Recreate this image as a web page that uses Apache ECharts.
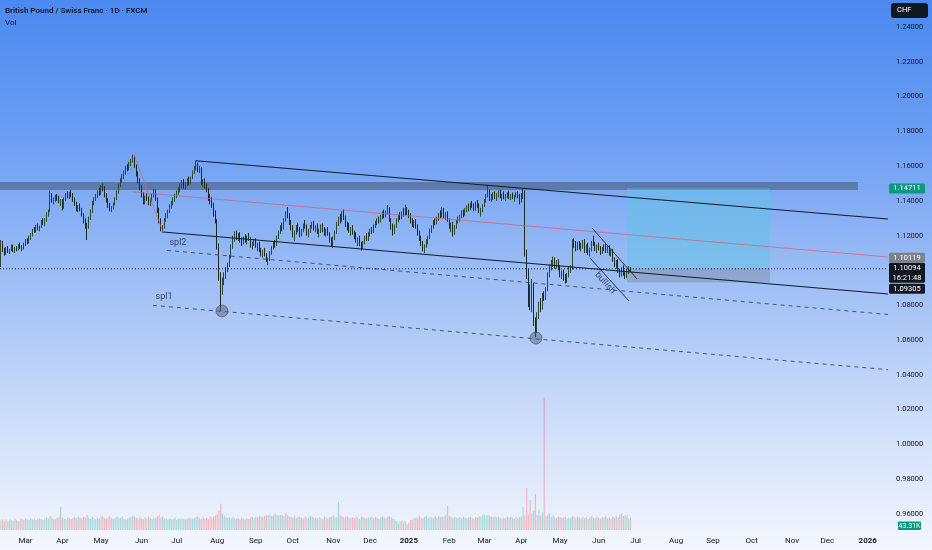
<!DOCTYPE html>
<html><head><meta charset="utf-8">
<script src="https://cdn.jsdelivr.net/npm/echarts@6/dist/echarts.min.js"></script>
<style>html,body{margin:0;padding:0;background:#fff}#c{width:932px;height:550px}</style>
</head><body><div id="c"></div>
<script>
// ---------------- DATA ----------------
const firstBarDate = '2024-02-12';
const categoryCount = 505; // weekday slots from first bar to mid Jan 2026
const title = 'British Pound / Swiss Franc · 1D · FXCM';
const currencyLabel = 'CHF';
const volumeTitle = 'Vol';
// daily candles [open, high, low, close]
const candles = [
[1.1035,1.1175,1.1020,1.1160],[1.1160,1.1170,1.1105,1.1115],[1.1115,1.1130,1.1085,1.1100],[1.1100,1.1135,1.1090,1.1125],[1.1125,1.1140,1.1100,1.1110],
[1.1110,1.1125,1.1095,1.1118],[1.1118,1.1150,1.1110,1.1140],[1.1140,1.1148,1.1105,1.1112],[1.1112,1.1135,1.1100,1.1128],[1.1128,1.1140,1.1110,1.1120],
[1.1120,1.1150,1.1115,1.1145],[1.1145,1.1160,1.1125,1.1135],[1.1135,1.1145,1.1110,1.1128],[1.1128,1.1160,1.1120,1.1155],[1.1155,1.1180,1.1140,1.1170],
[1.1170,1.1185,1.1150,1.1160],[1.1160,1.1200,1.1155,1.1190],[1.1190,1.1215,1.1175,1.1205],[1.1205,1.1240,1.1195,1.1232],[1.1232,1.1250,1.1215,1.1225],
[1.1225,1.1262,1.1218,1.1255],[1.1255,1.1270,1.1230,1.1240],[1.1240,1.1258,1.1225,1.1250],[1.1250,1.1290,1.1245,1.1280],[1.1280,1.1300,1.1260,1.1268],
[1.1268,1.1300,1.1255,1.1290],[1.1290,1.1335,1.1280,1.1325],[1.1325,1.1350,1.1310,1.1340],[1.1340,1.1460,1.1335,1.1430],[1.1430,1.1445,1.1390,1.1400],
[1.1400,1.1420,1.1380,1.1410],[1.1410,1.1435,1.1395,1.1420],[1.1420,1.1440,1.1400,1.1415],[1.1415,1.1430,1.1385,1.1395],[1.1395,1.1410,1.1370,1.1400],
[1.1400,1.1410,1.1345,1.1360],[1.1360,1.1420,1.1355,1.1412],[1.1412,1.1445,1.1400,1.1435],[1.1435,1.1455,1.1415,1.1425],[1.1425,1.1450,1.1410,1.1440],
[1.1440,1.1462,1.1420,1.1430],[1.1430,1.1445,1.1395,1.1402],[1.1402,1.1420,1.1370,1.1380],[1.1380,1.1395,1.1340,1.1350],[1.1350,1.1375,1.1335,1.1365],
[1.1365,1.1385,1.1340,1.1348],[1.1348,1.1360,1.1310,1.1320],[1.1320,1.1330,1.1270,1.1285],[1.1285,1.1300,1.1240,1.1262],[1.1262,1.1275,1.1175,1.1250],
[1.1250,1.1310,1.1240,1.1298],[1.1298,1.1350,1.1290,1.1340],[1.1340,1.1400,1.1330,1.1390],[1.1390,1.1420,1.1375,1.1412],[1.1412,1.1440,1.1400,1.1425],
[1.1425,1.1460,1.1415,1.1450],[1.1450,1.1475,1.1430,1.1440],[1.1440,1.1490,1.1435,1.1480],[1.1480,1.1500,1.1455,1.1470],[1.1470,1.1485,1.1420,1.1430],
[1.1430,1.1445,1.1390,1.1400],[1.1400,1.1415,1.1360,1.1372],[1.1372,1.1390,1.1340,1.1355],[1.1355,1.1370,1.1335,1.1362],[1.1362,1.1390,1.1350,1.1382],
[1.1382,1.1420,1.1375,1.1412],[1.1412,1.1460,1.1405,1.1450],[1.1450,1.1500,1.1440,1.1490],[1.1490,1.1530,1.1480,1.1520],[1.1520,1.1555,1.1505,1.1540],
[1.1540,1.1575,1.1525,1.1565],[1.1565,1.1600,1.1550,1.1590],[1.1590,1.1610,1.1570,1.1580],[1.1580,1.1625,1.1575,1.1615],[1.1615,1.1640,1.1600,1.1630],
[1.1630,1.1666,1.1620,1.1655],[1.1655,1.1660,1.1590,1.1600],[1.1600,1.1610,1.1540,1.1555],[1.1555,1.1570,1.1500,1.1510],[1.1510,1.1530,1.1460,1.1475],
[1.1475,1.1490,1.1420,1.1435],[1.1435,1.1450,1.1380,1.1395],[1.1395,1.1430,1.1380,1.1420],[1.1420,1.1445,1.1400,1.1410],[1.1410,1.1425,1.1375,1.1390],
[1.1390,1.1415,1.1370,1.1405],[1.1405,1.1440,1.1395,1.1430],[1.1430,1.1470,1.1420,1.1455],[1.1455,1.1465,1.1400,1.1410],[1.1410,1.1420,1.1330,1.1345],
[1.1345,1.1360,1.1270,1.1290],[1.1290,1.1300,1.1225,1.1240],[1.1240,1.1260,1.1218,1.1250],[1.1250,1.1300,1.1240,1.1290],[1.1290,1.1330,1.1280,1.1320],
[1.1320,1.1350,1.1300,1.1340],[1.1340,1.1380,1.1330,1.1372],[1.1372,1.1400,1.1355,1.1390],[1.1390,1.1420,1.1375,1.1410],[1.1410,1.1440,1.1395,1.1430],
[1.1430,1.1460,1.1415,1.1450],[1.1450,1.1480,1.1435,1.1470],[1.1470,1.1500,1.1450,1.1490],[1.1490,1.1520,1.1470,1.1505],[1.1505,1.1525,1.1470,1.1485],
[1.1485,1.1510,1.1465,1.1500],[1.1500,1.1530,1.1485,1.1520],[1.1520,1.1540,1.1490,1.1500],[1.1500,1.1540,1.1495,1.1535],[1.1535,1.1575,1.1525,1.1565],
[1.1565,1.1600,1.1555,1.1590],[1.1590,1.1630,1.1575,1.1610],[1.1610,1.1620,1.1565,1.1580],[1.1580,1.1600,1.1560,1.1590],[1.1590,1.1595,1.1490,1.1500],
[1.1500,1.1525,1.1480,1.1510],[1.1510,1.1530,1.1470,1.1485],[1.1485,1.1500,1.1450,1.1462],[1.1462,1.1475,1.1400,1.1415],[1.1415,1.1440,1.1380,1.1395],
[1.1395,1.1420,1.1360,1.1380],[1.1380,1.1390,1.1310,1.1325],[1.1325,1.1345,1.1270,1.1285],[1.1285,1.1295,1.1120,1.1140],[1.1140,1.1155,1.0940,1.0960],
[1.0960,1.0990,1.0765,1.0900],[1.0900,1.0960,1.0860,1.0935],[1.0935,1.0990,1.0915,1.0975],[1.0975,1.1020,1.0950,1.1005],[1.1005,1.1045,1.0990,1.1030],
[1.1030,1.1090,1.1020,1.1080],[1.1080,1.1150,1.1070,1.1140],[1.1140,1.1200,1.1125,1.1185],[1.1185,1.1225,1.1165,1.1210],[1.1210,1.1230,1.1175,1.1190],
[1.1190,1.1215,1.1170,1.1205],[1.1205,1.1220,1.1160,1.1172],[1.1172,1.1190,1.1140,1.1160],[1.1160,1.1195,1.1150,1.1185],[1.1185,1.1210,1.1160,1.1175],
[1.1175,1.1200,1.1150,1.1190],[1.1190,1.1215,1.1170,1.1180],[1.1180,1.1190,1.1130,1.1142],[1.1142,1.1165,1.1120,1.1155],[1.1155,1.1180,1.1140,1.1170],
[1.1170,1.1185,1.1130,1.1140],[1.1140,1.1160,1.1110,1.1150],[1.1150,1.1165,1.1105,1.1115],[1.1115,1.1130,1.1080,1.1090],[1.1090,1.1120,1.1075,1.1110],
[1.1110,1.1130,1.1080,1.1090],[1.1090,1.1100,1.1050,1.1060],[1.1060,1.1075,1.1030,1.1065],[1.1065,1.1110,1.1055,1.1100],[1.1100,1.1140,1.1090,1.1130],
[1.1130,1.1165,1.1120,1.1155],[1.1155,1.1175,1.1130,1.1145],[1.1145,1.1200,1.1140,1.1190],[1.1190,1.1230,1.1180,1.1220],[1.1220,1.1260,1.1210,1.1250],
[1.1250,1.1275,1.1225,1.1240],[1.1240,1.1300,1.1235,1.1290],[1.1290,1.1340,1.1280,1.1325],[1.1325,1.1365,1.1300,1.1310],[1.1310,1.1330,1.1260,1.1272],
[1.1272,1.1290,1.1230,1.1245],[1.1245,1.1260,1.1190,1.1205],[1.1205,1.1230,1.1170,1.1220],[1.1220,1.1260,1.1205,1.1250],[1.1250,1.1275,1.1220,1.1235],
[1.1235,1.1250,1.1190,1.1205],[1.1205,1.1240,1.1195,1.1230],[1.1230,1.1270,1.1220,1.1262],[1.1262,1.1290,1.1240,1.1250],[1.1250,1.1265,1.1200,1.1215],
[1.1215,1.1240,1.1190,1.1230],[1.1230,1.1262,1.1215,1.1255],[1.1255,1.1280,1.1240,1.1270],[1.1270,1.1285,1.1230,1.1240],[1.1240,1.1260,1.1220,1.1250],
[1.1250,1.1270,1.1210,1.1222],[1.1222,1.1240,1.1190,1.1230],[1.1230,1.1265,1.1215,1.1255],[1.1255,1.1270,1.1220,1.1235],[1.1235,1.1250,1.1200,1.1215],
[1.1215,1.1240,1.1195,1.1228],[1.1228,1.1250,1.1200,1.1210],[1.1210,1.1220,1.1160,1.1175],[1.1175,1.1190,1.1140,1.1160],[1.1160,1.1195,1.1130,1.1185],
[1.1185,1.1230,1.1175,1.1220],[1.1220,1.1280,1.1210,1.1270],[1.1270,1.1310,1.1255,1.1300],[1.1300,1.1325,1.1270,1.1285],[1.1285,1.1340,1.1280,1.1330],
[1.1330,1.1350,1.1290,1.1300],[1.1300,1.1315,1.1250,1.1262],[1.1262,1.1280,1.1230,1.1250],[1.1250,1.1275,1.1215,1.1225],[1.1225,1.1250,1.1200,1.1240],
[1.1240,1.1260,1.1205,1.1215],[1.1215,1.1230,1.1180,1.1195],[1.1195,1.1220,1.1160,1.1170],[1.1170,1.1190,1.1140,1.1180],[1.1180,1.1200,1.1140,1.1150],
[1.1150,1.1165,1.1115,1.1140],[1.1140,1.1170,1.1125,1.1160],[1.1160,1.1200,1.1150,1.1190],[1.1190,1.1215,1.1170,1.1180],[1.1180,1.1220,1.1170,1.1212],
[1.1212,1.1240,1.1195,1.1230],[1.1230,1.1250,1.1210,1.1220],[1.1220,1.1265,1.1215,1.1258],[1.1258,1.1285,1.1245,1.1275],[1.1275,1.1300,1.1260,1.1290],
[1.1290,1.1310,1.1270,1.1280],[1.1280,1.1320,1.1275,1.1312],[1.1312,1.1340,1.1295,1.1325],[1.1325,1.1350,1.1300,1.1315],[1.1315,1.1345,1.1305,1.1335],
[1.1335,1.1376,1.1320,1.1355],[1.1355,1.1365,1.1280,1.1290],[1.1290,1.1300,1.1235,1.1250],[1.1250,1.1270,1.1200,1.1220],[1.1220,1.1265,1.1210,1.1255],
[1.1255,1.1300,1.1245,1.1290],[1.1290,1.1320,1.1275,1.1310],[1.1310,1.1335,1.1290,1.1300],[1.1300,1.1340,1.1295,1.1330],[1.1330,1.1360,1.1310,1.1320],
[1.1320,1.1378,1.1315,1.1350],[1.1350,1.1365,1.1320,1.1335],[1.1335,1.1350,1.1300,1.1312],[1.1312,1.1330,1.1270,1.1285],[1.1285,1.1300,1.1250,1.1262],
[1.1262,1.1290,1.1245,1.1280],[1.1280,1.1295,1.1240,1.1250],[1.1250,1.1265,1.1200,1.1212],[1.1212,1.1230,1.1170,1.1185],[1.1185,1.1200,1.1140,1.1155],
[1.1155,1.1170,1.1110,1.1130],[1.1130,1.1150,1.1100,1.1140],[1.1140,1.1180,1.1130,1.1170],[1.1170,1.1200,1.1150,1.1190],[1.1190,1.1240,1.1180,1.1230],
[1.1230,1.1260,1.1215,1.1250],[1.1250,1.1290,1.1240,1.1280],[1.1280,1.1300,1.1260,1.1272],[1.1272,1.1310,1.1265,1.1300],[1.1300,1.1330,1.1285,1.1320],
[1.1320,1.1345,1.1300,1.1310],[1.1310,1.1365,1.1305,1.1350],[1.1350,1.1360,1.1300,1.1315],[1.1315,1.1335,1.1290,1.1325],[1.1325,1.1340,1.1280,1.1290],
[1.1290,1.1300,1.1240,1.1255],[1.1255,1.1275,1.1220,1.1265],[1.1265,1.1280,1.1195,1.1215],[1.1215,1.1260,1.1205,1.1250],[1.1250,1.1290,1.1240,1.1282],
[1.1282,1.1310,1.1270,1.1300],[1.1300,1.1320,1.1280,1.1312],[1.1312,1.1345,1.1300,1.1335],[1.1335,1.1350,1.1305,1.1320],[1.1320,1.1360,1.1315,1.1350],
[1.1350,1.1375,1.1335,1.1365],[1.1365,1.1385,1.1340,1.1352],[1.1352,1.1390,1.1345,1.1380],[1.1380,1.1400,1.1360,1.1370],[1.1370,1.1385,1.1340,1.1350],
[1.1350,1.1395,1.1345,1.1388],[1.1388,1.1405,1.1360,1.1372],[1.1372,1.1385,1.1330,1.1340],[1.1340,1.1360,1.1310,1.1350],[1.1350,1.1380,1.1335,1.1372],
[1.1372,1.1410,1.1365,1.1400],[1.1400,1.1440,1.1390,1.1430],[1.1430,1.1490,1.1420,1.1440],[1.1440,1.1465,1.1400,1.1415],[1.1415,1.1440,1.1395,1.1425],
[1.1425,1.1450,1.1405,1.1440],[1.1440,1.1455,1.1410,1.1420],[1.1420,1.1445,1.1400,1.1432],[1.1432,1.1460,1.1420,1.1450],[1.1450,1.1465,1.1415,1.1425],
[1.1425,1.1440,1.1400,1.1435],[1.1435,1.1455,1.1410,1.1418],[1.1418,1.1440,1.1400,1.1430],[1.1430,1.1450,1.1415,1.1445],[1.1445,1.1460,1.1410,1.1420],
[1.1420,1.1440,1.1405,1.1432],[1.1432,1.1448,1.1410,1.1415],[1.1415,1.1435,1.1395,1.1428],[1.1428,1.1450,1.1420,1.1442],[1.1442,1.1455,1.1415,1.1422],
[1.1422,1.1440,1.1380,1.1395],[1.1395,1.1445,1.1390,1.1435],[1.1435,1.1470,1.1410,1.1450],[1.1450,1.1460,1.1080,1.1100],[1.1100,1.1120,1.0950,1.0985],
[1.0985,1.1010,1.0790,1.0880],[1.0880,1.0920,1.0770,1.0800],[1.0800,1.0950,1.0760,1.0920],[1.0920,1.0930,1.0680,1.0710],[1.0710,1.0730,1.0615,1.0660],
[1.0660,1.0760,1.0640,1.0740],[1.0740,1.0820,1.0720,1.0800],[1.0800,1.0840,1.0760,1.0785],[1.0785,1.0870,1.0775,1.0860],[1.0860,1.0880,1.0825,1.0840],
[1.0840,1.0905,1.0830,1.0892],[1.0892,1.0990,1.0880,1.0980],[1.0980,1.1035,1.0960,1.1020],[1.1020,1.1060,1.1000,1.1045],[1.1045,1.1080,1.1020,1.1060],
[1.1060,1.1075,1.1010,1.1025],[1.1025,1.1060,1.1010,1.1048],[1.1048,1.1065,1.1000,1.1015],[1.1015,1.1030,1.0960,1.0975],[1.0975,1.1000,1.0950,1.0985],
[1.0985,1.1005,1.0940,1.0955],[1.0955,1.0980,1.0925,1.0940],[1.0940,1.0985,1.0928,1.0975],[1.0975,1.1020,1.0960,1.1005],[1.1005,1.1030,1.0985,1.1012],
[1.1012,1.1180,1.1005,1.1160],[1.1160,1.1185,1.1130,1.1145],[1.1145,1.1170,1.1110,1.1125],[1.1125,1.1165,1.1115,1.1150],[1.1150,1.1170,1.1120,1.1132],
[1.1132,1.1160,1.1110,1.1145],[1.1145,1.1175,1.1125,1.1165],[1.1165,1.1180,1.1100,1.1115],[1.1115,1.1150,1.1100,1.1140],[1.1140,1.1160,1.1090,1.1100],
[1.1100,1.1130,1.1080,1.1120],[1.1120,1.1170,1.1110,1.1160],[1.1160,1.1200,1.1140,1.1150],[1.1150,1.1165,1.1110,1.1120],[1.1120,1.1150,1.1100,1.1138],
[1.1138,1.1160,1.1115,1.1125],[1.1125,1.1140,1.1090,1.1105],[1.1105,1.1135,1.1095,1.1128],[1.1128,1.1150,1.1110,1.1140],[1.1140,1.1155,1.1100,1.1112],
[1.1112,1.1140,1.1100,1.1130],[1.1130,1.1145,1.1085,1.1098],[1.1098,1.1120,1.1080,1.1110],[1.1110,1.1125,1.1050,1.1062],[1.1062,1.1075,1.1020,1.1035],
[1.1035,1.1060,1.1010,1.1050],[1.1050,1.1065,1.0985,1.0995],[1.0995,1.1010,1.0960,1.0975],[1.0975,1.1020,1.0965,1.1010],[1.1010,1.1030,1.0970,1.0985],
[1.0985,1.1000,1.0950,1.0962],[1.0962,1.1010,1.0955,1.1000],[1.1000,1.1025,1.0980,1.1012],[1.1012,1.1020,1.0995,1.1009]
];
// daily volume, thousands
const volumes = [
32,35,30,34,29,36,33,31,38,34,30,35,37,33,40,36,34,39,35,38,
33,37,40,36,34,38,42,39,46,41,37,35,40,44,77,42,38,36,41,39,
37,40,43,39,45,41,38,44,42,50,40,37,43,39,36,41,38,44,46,40,
38,42,45,39,36,41,44,38,40,43,37,35,39,42,45,48,44,40,38,41,
39,36,42,38,44,40,37,41,39,46,48,42,44,38,40,36,39,35,37,41,
34,38,36,40,37,35,39,41,38,36,40,43,45,39,37,42,38,40,36,44,
41,46,48,52,62,87,55,48,44,40,42,38,41,39,37,40,36,42,38,35,
39,37,41,43,40,44,42,46,45,43,47,50,48,52,46,49,55,51,48,50,
52,47,55,50,45,44,42,47,40,43,45,41,38,44,42,40,46,43,39,41,
38,42,40,37,44,41,39,43,45,48,42,44,93,50,46,43,41,45,40,38,
42,39,44,41,37,45,43,40,38,42,41,44,39,43,40,37,42,45,41,39,
44,46,42,38,36,30,22,28,32,27,29,20,24,33,35,40,42,38,45,41,
39,43,46,40,44,42,38,45,41,47,43,44,46,50,80,48,44,41,45,42,
40,43,39,44,41,38,42,45,40,37,43,41,46,44,49,52,48,50,47,45,
43,46,41,44,40,38,42,39,45,41,43,40,37,44,39,42,46,77,48,140,
52,100,55,62,120,50,67,48,58,440,45,52,57,44,48,42,40,46,43,39,
41,44,38,42,40,47,43,39,45,41,38,44,40,42,37,43,46,41,39,44,
40,38,43,41,45,39,42,37,44,40,46,42,52,55,47,50,48,39,43.31
];
const priceTicks = {min: 0.94, max: 1.26, step: 0.02};
const volumeMax = 466;
// drawings: [bar index, price]
const channelLines = [[[110.8,1.16311],[504.5,1.12959]], [[92.2,1.12211],[504.5,1.08646]]];
const midLine = [[75.1,1.14511],[504.5,1.10774]];
const swingLeg = [[75.7,1.16639],[92.2,1.12211]];
const splLines = [[[94.5,1.11153],[504.5,1.07468]], [[86.5,1.07991],[504.5,1.04294]]];
const wedgeLines = [[[336.2,1.12442],[361.8,1.09509]], [[335.0,1.10716],[357.2,1.08244]]];
const swingCircles = [[125.75,1.07669],[304.3,1.06116]];
const noteTexts = [{name:'spl2', value:[100.7,1.11579]}, {name:'spl1', value:[92.8,1.08474]}, {name:'bullish', value:[343.6,1.0928]}];
const resistanceBand = [[-0.5,1.15086],[487.4,1.14626]];
const positionBox = {from:356.1, to:437.4, target:1.14711, entry:1.10119, stop:1.09305};
const lastPrice = 1.10094;
const countdown = '16:21:48';
const lastVolumeLabel = '43.31K';
const monthNames = ['Jan','Feb','Mar','Apr','May','Jun','Jul','Aug','Sep','Oct','Nov','Dec'];

// ---------------- BUILD ----------------
const cats = [];
{
  const d = new Date(firstBarDate + 'T00:00:00Z');
  while (cats.length < categoryCount) {
    const wd = d.getUTCDay();
    if (wd !== 0 && wd !== 6) cats.push(d.toISOString().slice(0,10));
    d.setUTCDate(d.getUTCDate() + 1);
  }
}
const FONT = 'Roboto';
const TXT = '#131722';
const candleData = candles.map(c => [c[0], c[3], c[2], c[1]]);
const volData = volumes.map((v, i) => ({
  value: v,
  itemStyle: {color: candles[i][3] >= candles[i][0] ? 'rgba(38,166,154,0.32)' : 'rgba(239,83,80,0.34)'}
}));
const lineSeries = (data, color, type, width, z) => ({
  type: 'line', xAxisIndex: 1, yAxisIndex: 0, data, symbol: 'none', silent: true, z: z || 4,
  lineStyle: {color, width, type}, animation: false
});
const series = [
  {type: 'candlestick', xAxisIndex: 0, yAxisIndex: 0, data: candleData, barWidth: '62%', z: 2,
   itemStyle: {color: '#86c38a', color0: '#1d2b23', borderColor: '#2b4a33', borderColor0: '#1d2b23', borderWidth: 1}},
  {type: 'bar', xAxisIndex: 2, yAxisIndex: 1, data: volData, barWidth: '70%', z: 1},
  {type: 'line', xAxisIndex: 1, yAxisIndex: 0, data: [], symbol: 'none', z: 3, silent: true,
   markArea: {silent: true, data: [
     [{coord: resistanceBand[0], itemStyle: {color: 'rgba(55,65,85,0.45)'}}, {coord: resistanceBand[1]}],
     [{coord: [positionBox.from, positionBox.target], itemStyle: {color: 'rgba(95,195,230,0.5)'}}, {coord: [positionBox.to, positionBox.entry]}],
     [{coord: [positionBox.from, positionBox.entry], itemStyle: {color: 'rgba(120,128,145,0.38)'}}, {coord: [positionBox.to, positionBox.stop]}]
   ]}},
  lineSeries(channelLines[0], '#141b2b', 'solid', 1.1),
  lineSeries(channelLines[1], '#141b2b', 'solid', 1.1),
  lineSeries(midLine, 'rgba(225,90,105,0.85)', 'solid', 0.8),
  lineSeries(swingLeg, 'rgba(225,90,105,0.85)', 'solid', 0.8),
  lineSeries(splLines[0], '#3b4660', [4,4], 0.9),
  lineSeries(splLines[1], '#3b4660', [4,4], 0.9),
  lineSeries(wedgeLines[0], '#141b2b', 'solid', 0.9),
  lineSeries(wedgeLines[1], '#141b2b', 'solid', 0.9),
  lineSeries([[-0.5,lastPrice],[504.5,lastPrice]], '#1c2538', [1,2], 1),
  {type: 'scatter', xAxisIndex: 1, yAxisIndex: 0, data: swingCircles, symbolSize: 12, z: 5, silent: true,
   itemStyle: {color: 'rgba(85,95,115,0.6)', borderColor: 'rgba(60,70,90,0.7)', borderWidth: 1}},
  {type: 'scatter', xAxisIndex: 1, yAxisIndex: 0, symbolSize: 1, z: 6, silent: true,
   itemStyle: {color: 'rgba(0,0,0,0)'},
   data: noteTexts.map(t => ({name: t.name, value: t.value,
     label: {show: true, position: 'inside', formatter: '{b}', color: '#1c2538', fontFamily: FONT, fontSize: 9,
             rotate: t.name === 'bullish' ? -48 : 0}}))}
];

const option = {
  animation: false,
  backgroundColor: {type: 'linear', x: 0, y: 0, x2: 0, y2: 1, colorStops: [
    {offset: 0, color: '#4b88f0'}, {offset: 0.25, color: '#6b9ef3'}, {offset: 0.5, color: '#9dbdf5'},
    {offset: 0.75, color: '#cbdcfa'}, {offset: 1, color: '#f4f7fd'}]},
  grid: [
    {left: 0, right: 44, top: -7.8, bottom: 1.3, containLabel: false, outerBoundsMode: 'none'},
    {left: 0, right: 44, top: 390, bottom: 20, containLabel: false, outerBoundsMode: 'none'}
  ],
  xAxis: [
    {gridIndex: 0, type: 'category', data: cats, show: false, boundaryGap: true},
    {gridIndex: 0, type: 'value', min: -0.5, max: categoryCount - 0.5, show: false},
    {gridIndex: 1, type: 'category', data: cats, boundaryGap: true,
     axisLine: {show: false}, axisTick: {show: false}, splitLine: {show: false},
     axisLabel: {
       margin: 7, fontSize: 8, color: TXT, fontFamily: FONT,
       interval: (i, v) => i > 0 && cats[i].slice(5,7) !== cats[i-1].slice(5,7),
       formatter: v => { const m = +v.slice(5,7); return m === 1 ? '{y|' + v.slice(0,4) + '}' : monthNames[m-1]; },
       rich: {y: {fontWeight: 'bold', fontSize: 8, color: TXT, fontFamily: FONT}}
     }}
  ],
  yAxis: [
    {gridIndex: 0, type: 'value', position: 'right', min: priceTicks.min, max: priceTicks.max, interval: priceTicks.step,
     axisLine: {show: false}, axisTick: {show: false}, splitLine: {show: false},
     axisLabel: {margin: 8, fontSize: 7.5, color: TXT, fontFamily: FONT,
       formatter: v => (v < 0.95 || v > 1.25 || Math.abs(v - 1.10) < 1e-6) ? '' : v.toFixed(5)}},
    {gridIndex: 1, type: 'value', min: 0, max: volumeMax, show: false}
  ],
  series
};

const chart = echarts.init(document.getElementById('c'), null, {renderer: 'canvas', width: 932, height: 550});
chart.setOption(option);

// ---- right-side tags and header text ----
const py = v => chart.convertToPixel({yAxisIndex: 0}, v);
const xr = chart.convertToPixel({xAxisIndex: 1}, categoryCount - 0.5);
const g = [];
const tagX = xr + 1, tagW = 36;
function tag(cy, h, bg, lines) {
  g.push({type: 'rect', shape: {x: tagX, y: cy - h / 2, width: tagW, height: h, r: 1.5}, style: {fill: bg}, z: 100});
  lines.forEach((t, k) => g.push({type: 'text', x: tagX + tagW / 2, y: cy - h / 2 + 5 + k * 10, z: 101,
    style: {text: t, fill: '#fff', font: '7.5px ' + FONT, textAlign: 'center', textVerticalAlign: 'middle'}}));
}
const yLast = py(lastPrice);
tag(py(positionBox.target), 10, '#089981', [positionBox.target.toFixed(5)]);
tag(yLast + 4, 20, '#131722', [lastPrice.toFixed(5), countdown]);
tag(Math.min(py(positionBox.entry), yLast - 6 - 5), 10, '#7c818c', [positionBox.entry.toFixed(5)]);
tag(Math.max(py(positionBox.stop), yLast + 14 + 6), 10, '#131722', [positionBox.stop.toFixed(5)]);
const yVol0 = chart.convertToPixel({yAxisIndex: 1}, 0);
g.push({type: 'rect', shape: {x: 898, y: yVol0 - 8.5, width: 23, height: 8.5, r: 1}, style: {fill: '#089981'}, z: 100});
g.push({type: 'text', x: 909.5, y: yVol0 - 4.2, z: 101, style: {text: lastVolumeLabel, fill: '#fff', font: '7px ' + FONT, textAlign: 'center', textVerticalAlign: 'middle'}});
g.push({type: 'rect', shape: {x: 891, y: 3, width: 37, height: 15, r: 3}, style: {fill: '#131722'}, z: 100});
g.push({type: 'text', x: 897, y: 10.5, z: 101, style: {text: currencyLabel, fill: '#fff', font: '7.5px ' + FONT, textVerticalAlign: 'middle'}});
g.push({type: 'text', x: 5, y: 11, z: 101, style: {text: title, fill: '#131722', font: '600 8px ' + FONT, textVerticalAlign: 'middle'}});
g.push({type: 'text', x: 5, y: 23, z: 101, style: {text: volumeTitle, fill: '#131722', font: '8px ' + FONT, textVerticalAlign: 'middle'}});
chart.setOption({graphic: g});
</script>
</body></html>
